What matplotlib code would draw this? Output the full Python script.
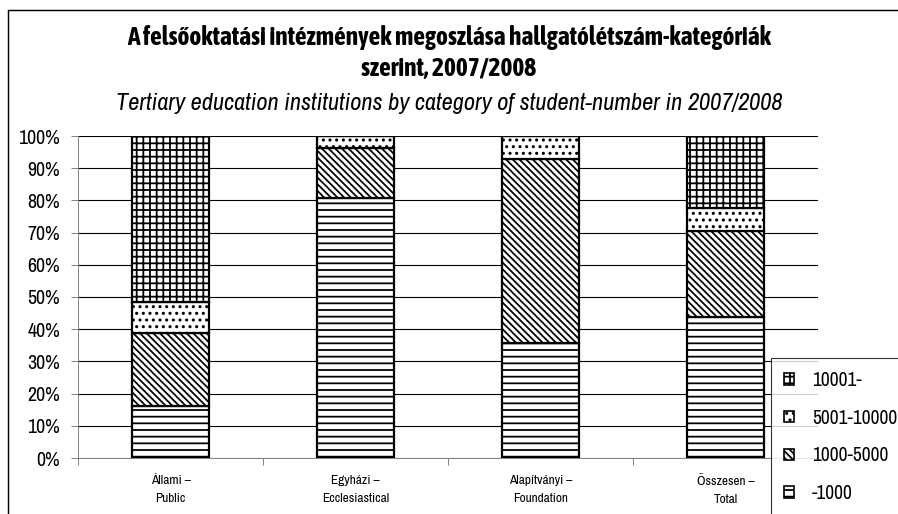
import matplotlib
matplotlib.use('Agg')
import matplotlib.pyplot as plt
import numpy as np
from matplotlib.patches import Rectangle, Patch

# adatok (%), olvasva a képről
categories = ['Állami –\nPublic', 'Egyházi –\nEcclesiastical',
              'Alapítványi –\nFoundation', 'Összesen –\nTotal']
cat_1000 = [16.1, 80.8, 35.7, 43.7]        # -1000
cat_5000 = [22.6, 15.4, 57.1, 26.8]        # 1000-5000
cat_10000 = [9.7, 3.8, 7.1, 7.0]           # 5001-10000
cat_10001 = [51.6, 0.0, 0.0, 22.5]         # 10001-
series_labels = ['-1000', '1000-5000', '5001-10000', '10001-']
title_hu = 'A felsőoktatási intézmények megoszlása hallgatólétszám-kategóriák\nszerint, 2007/2008'
title_en = 'Tertiary education institutions by category of student-number in 2007/2008'

W, H = 898, 514
DPI = 80
NARROW = ['Archivo Narrow', 'DejaVu Sans']
COND = ['Asap Condensed', 'DejaVu Sans']
plt.rcParams['font.family'] = NARROW
plt.rcParams['font.stretch'] = 'condensed'
plt.rcParams['hatch.color'] = '#444444'
plt.rcParams['hatch.linewidth'] = 1.6

fig = plt.figure(figsize=(W / DPI, H / DPI), dpi=DPI)
ax = fig.add_axes([78 / W, 1 - 458 / H, (818 - 78) / W, (458 - 136) / H])

x = np.arange(len(categories))
series = [cat_1000, cat_5000, cat_10000, cat_10001]
hatches = ['--', '\\\\\\\\', '..', '++']
bottom = np.zeros(len(categories))
handles = []
for vals, h, lab in zip(series, hatches, series_labels):
    ax.bar(x, vals, width=0.415, bottom=bottom, color='white',
           edgecolor='black', linewidth=2, hatch=h, zorder=3)
    bottom += np.array(vals)
    handles.append(Patch(facecolor='white', edgecolor='black', hatch=h,
                         linewidth=1.5, label=lab))

ax.set_xlim(-0.5, 3.5)
ax.set_ylim(0, 100)
ax.set_yticks(np.arange(0, 101, 10))
ax.set_yticklabels([f'{v}%' for v in range(0, 101, 10)], fontsize=18)
ax.yaxis.grid(True, color='black', linewidth=1, zorder=0)
ax.set_xticks([-0.5, 0.5, 1.5, 2.5, 3.5])
ax.set_xticklabels([])
ax.set_xticks(x, minor=True)
ax.set_xticklabels(categories, minor=True, fontsize=12, linespacing=1.85)
ax.tick_params(axis='x', which='minor', length=0, pad=15)
ax.tick_params(axis='both', which='major', length=6, color='#777777')
ax.tick_params(axis='y', pad=10)
for s in ['top', 'right']:
    ax.spines[s].set_visible(False)
for s in ['left', 'bottom']:
    ax.spines[s].set_color('#777777')

fig.text(0.5, 1 - 53 / H, title_hu, ha='center', va='center', fontsize=23,
         fontweight='bold', linespacing=1.3, family=COND)
fig.text(0.5, 1 - 103 / H, title_en, ha='center', va='center', fontsize=22,
         style='italic', family=NARROW)

# keret
fig.add_artist(Rectangle((8 / W, -0.5), 2, 1.5 - 10 / H, transform=fig.transFigure,
                         fill=False, edgecolor='black', linewidth=1.3))

leg = fig.legend(handles=handles[::-1], loc='upper left',
                 bbox_to_anchor=(771 / W, 1 - 358 / H), fontsize=17.5,
                 frameon=True, fancybox=False, edgecolor='black',
                 handlelength=0.55, handleheight=0.55, handletextpad=0.9,
                 labelspacing=0.97, borderpad=0.65, borderaxespad=0)
leg.get_frame().set_linewidth(1.0)

fig.savefig('out.png', dpi=DPI)
